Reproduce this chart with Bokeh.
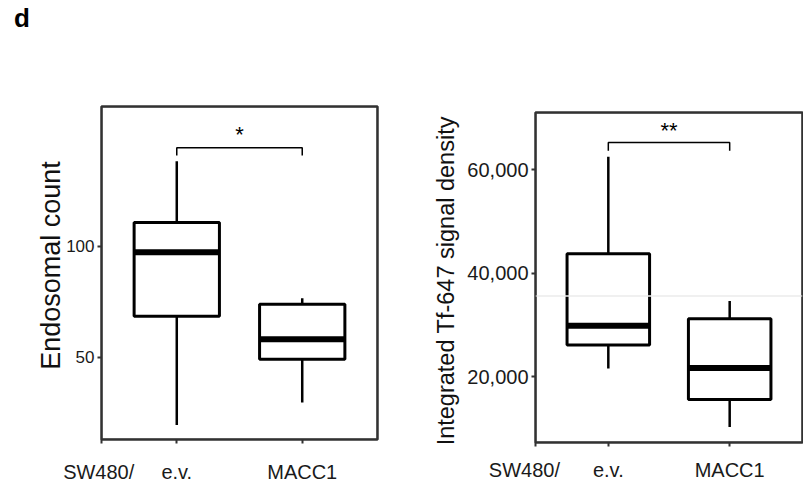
from bokeh.plotting import figure
from bokeh.models import (Range1d, FixedTicker, NumeralTickFormatter, Span, Div, Spacer,
                          BoxAnnotation)
from bokeh.layouts import row, column
from bokeh.core.properties import value
from bokeh.embed import file_html
from bokeh.resources import INLINE

FONT = "Liberation Sans"
NBSP = "\u00a0"

# ---- data ----
groups = ["e.v.", "MACC1"]
group_x = [1, 2]
cell_line = "SW480/"

endo_low = [19.5, 29.7]
endo_q1 = [68.5, 49.2]
endo_med = [97.3, 58.2]
endo_q3 = [110.8, 73.9]
endo_high = [138.3, 76.6]
endo_ticks = [50, 100]
endo_sig = "*"
endo_bracket = [140.9, 144.4]   # leg bottom, bracket top
endo_sig_y = 150.6

tf_low = [21620, 10370]
tf_q1 = [26180, 15640]
tf_med = [29900, 21730]
tf_q3 = [43780, 31250]
tf_high = [62500, 34660]
tf_ticks = [20000, 40000, 60000]
tf_sig = "**"
tf_bracket = [63660, 65260]
tf_sig_y = 67600
tf_ref_line = 35630

X_START, X_END = 0.4, 2.6
BOX_W = 0.68


def make_panel(fw, fh, bl, br, bt, bb, yr, ticks, ylabel, low, q1, med, q3, high,
               bracket, sig, sig_y, tick_font, label_font, x_standoff, lead_pad, label_std):
    p = figure(frame_width=fw, frame_height=fh, output_backend="svg", toolbar_location=None,
               x_range=Range1d(X_START, X_END), y_range=Range1d(*yr),
               min_border_left=bl, min_border_right=br, min_border_top=bt, min_border_bottom=bb)
    p.grid.visible = False
    p.outline_line_color = "#333333"
    p.outline_line_width = 2.5
    p.background_fill_color = "white"
    p.border_fill_color = "white"

    for ax in (p.xaxis[0], p.yaxis[0]):
        ax.axis_line_color = None
        ax.major_tick_line_color = "#333333"
        ax.major_tick_line_width = 2
        ax.major_tick_out = 4
        ax.major_tick_in = 0
        ax.minor_tick_line_color = None
        ax.major_label_text_font = FONT
        ax.major_label_text_color = "#1a1a1a"

    xt = [X_START] + group_x
    p.xaxis.ticker = FixedTicker(ticks=xt)
    labels = {X_START: cell_line + NBSP * lead_pad}
    labels.update({gx: g for gx, g in zip(group_x, groups)})
    p.xaxis.major_label_overrides = labels
    p.xaxis.major_label_text_font_size = "20px"
    p.xaxis.major_label_standoff = x_standoff

    p.yaxis.ticker = FixedTicker(ticks=ticks)
    p.yaxis.major_label_text_font_size = tick_font
    p.yaxis.major_label_standoff = 3
    p.yaxis.axis_label = ylabel
    p.yaxis.axis_label_text_font = FONT
    p.yaxis.axis_label_text_font_size = label_font
    p.yaxis.axis_label_text_font_style = "normal"
    p.yaxis.axis_label_text_color = "#111111"
    p.yaxis.axis_label_standoff = label_std

    left = [x - BOX_W / 2 for x in group_x]
    right = [x + BOX_W / 2 for x in group_x]
    p.segment(x0=group_x, y0=q3, x1=group_x, y1=high, line_color="black", line_width=2.5)
    p.segment(x0=group_x, y0=low, x1=group_x, y1=q1, line_color="black", line_width=2.5)
    p.quad(left=left, right=right, bottom=q1, top=q3, fill_color="white",
           line_color="black", line_width=3)
    p.segment(x0=left, y0=med, x1=right, y1=med, line_color="black", line_width=6)

    p.line(x=[group_x[0], group_x[0], group_x[1], group_x[1]],
           y=[bracket[0], bracket[1], bracket[1], bracket[0]],
           line_color="black", line_width=1.5)
    p.text(x=[(group_x[0] + group_x[1]) / 2], y=[sig_y], text=[sig],
           text_align="center", text_baseline="alphabetic",
           text_font=value(FONT), text_font_size="22px", text_color="black")

    # panel border drawn on top of everything
    p.add_layout(BoxAnnotation(fill_color=None, fill_alpha=0, line_color="#333333",
                               line_width=2.5, level="overlay"))
    return p


p1 = make_panel(276, 333, 101, 32, 66, 48, (13, 163), endo_ticks,
                NBSP * 2 + "Endosomal count",
                endo_low, endo_q1, endo_med, endo_q3, endo_high,
                endo_bracket, endo_sig, endo_sig_y, "17px", "27px", 17, 1, -3)

p2 = make_panel(267, 330, 126, 1, 64, 43, (7360, 71040), tf_ticks,
                "Integrated Tf-647  signal density",
                tf_low, tf_q1, tf_med, tf_q3, tf_high,
                tf_bracket, tf_sig, tf_sig_y, "20px", "23.5px", 12, 4, 5)
p2.yaxis.formatter = NumeralTickFormatter(format="0,0")
p2.add_layout(Span(location=tf_ref_line, dimension="width", line_color="#ebebeb", line_width=1.5))

panel_letter = Div(text="d", width=60, height=30,
                   styles={"font-family": FONT, "font-size": "26px", "font-weight": "bold",
                           "line-height": "1", "padding-left": "9px", "color": "black"})

layout = column(panel_letter, row(p1, column(Spacer(width=10, height=8), p2)))
open("out.html", "w").write(file_html(layout, INLINE))
